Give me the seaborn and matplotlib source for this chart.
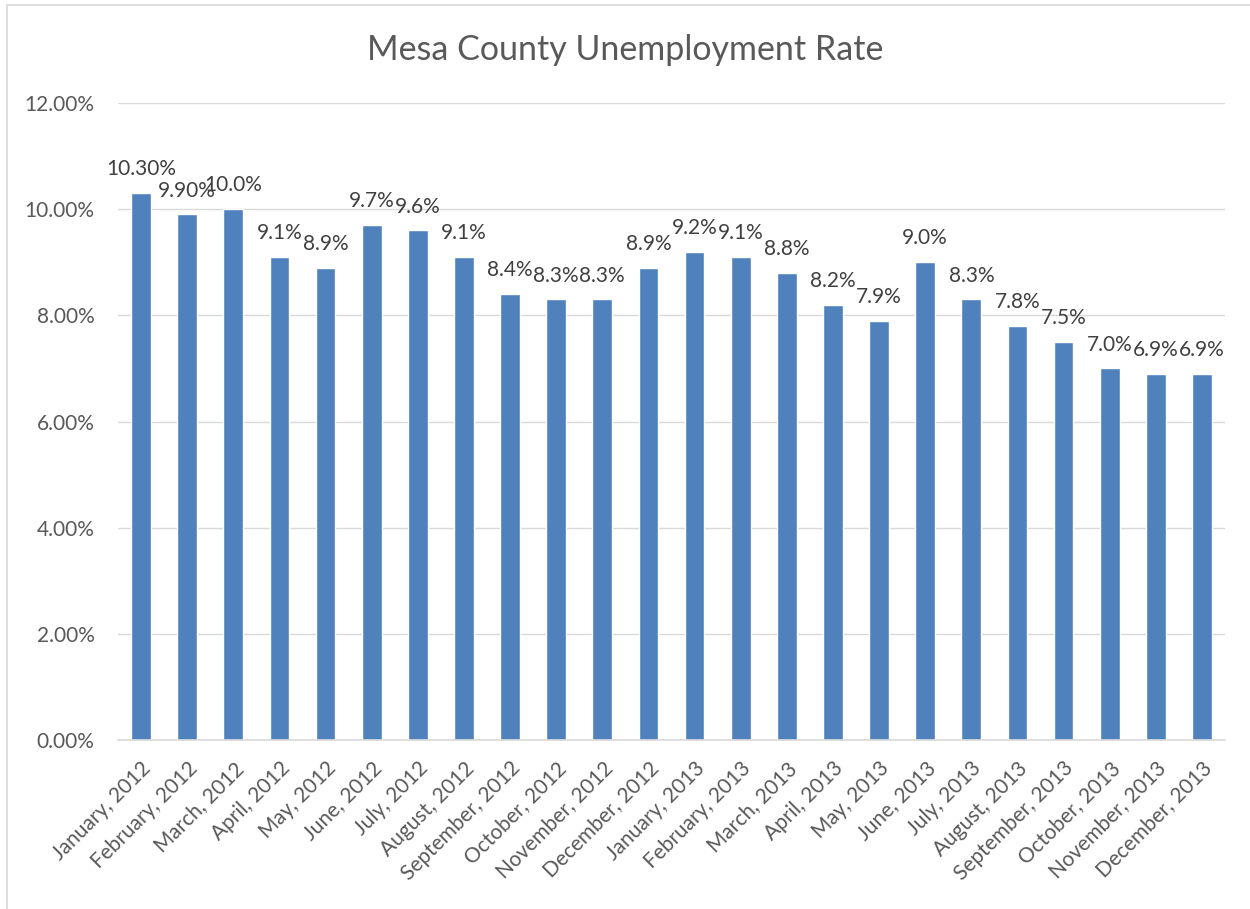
import matplotlib
matplotlib.use("Agg")
import matplotlib.pyplot as plt
import seaborn as sns
import pandas as pd
from matplotlib.patches import Rectangle
from matplotlib.ticker import FuncFormatter

months = ["January, 2012", "February, 2012", "March, 2012", "April, 2012", "May, 2012",
          "June, 2012", "July, 2012", "August, 2012", "September, 2012", "October, 2012",
          "November, 2012", "December, 2012", "January, 2013", "February, 2013",
          "March, 2013", "April, 2013", "May, 2013", "June, 2013", "July, 2013",
          "August, 2013", "September, 2013", "October, 2013", "November, 2013",
          "December, 2013"]
rates = [10.3, 9.9, 10.0, 9.1, 8.9, 9.7, 9.6, 9.1, 8.4, 8.3, 8.3, 8.9,
         9.2, 9.1, 8.8, 8.2, 7.9, 9.0, 8.3, 7.8, 7.5, 7.0, 6.9, 6.9]
value_labels = ["10.30%", "9.90%", "10.0%", "9.1%", "8.9%", "9.7%", "9.6%", "9.1%",
                "8.4%", "8.3%", "8.3%", "8.9%", "9.2%", "9.1%", "8.8%", "8.2%",
                "7.9%", "9.0%", "8.3%", "7.8%", "7.5%", "7.0%", "6.9%", "6.9%"]
yticks = [0, 2, 4, 6, 8, 10, 12]

sns.set_theme(style="white")
plt.rcParams['font.family'] = ['Lato', 'DejaVu Sans']

text_color = "#595959"
bar_color = "#4F81BD"

df = pd.DataFrame({"month": months, "rate": rates})

fig = plt.figure(figsize=(12.5, 9.09), dpi=100)
ax = fig.add_axes([0.0944, 0.1859, 0.8856, 0.7008])

sns.barplot(data=df, x="month", y="rate", color=bar_color, saturation=1,
            width=0.43, ax=ax, order=months)

ax.set_xlim(-0.5, len(months) - 0.5)
ax.set_ylim(0, 12)
ax.set_yticks(yticks)
ax.yaxis.set_major_formatter(FuncFormatter(lambda v, p: f"{v:.2f}%"))
ax.yaxis.grid(True, color="#D9D9D9", linewidth=1)
ax.set_axisbelow(True)
for s in ["top", "right", "left"]:
    ax.spines[s].set_visible(False)
ax.spines["bottom"].set_color("#D9D9D9")
ax.spines["bottom"].set_linewidth(1.2)
ax.set_xlabel("")
ax.set_ylabel("")
ax.tick_params(axis="both", length=0, labelsize=15, colors=text_color)
ax.yaxis.set_tick_params(pad=17)
ax.xaxis.set_tick_params(pad=13)
plt.setp(ax.get_xticklabels(), rotation=45, ha="right", rotation_mode="anchor")

for i, (v, lab) in enumerate(zip(rates, value_labels)):
    ax.annotate(lab, (i, v), xytext=(0, 10), textcoords="offset points",
                ha="center", va="bottom", fontsize=15, color="#404040")

fig.text(0.5, 0.945, "Mesa County Unemployment Rate", ha="center", va="center",
         fontsize=24.5, color=text_color)

fig.patches.append(Rectangle((0.0056, -0.01), 1.0, 1.0045, transform=fig.transFigure,
                             fill=False, edgecolor="#D9D9D9", linewidth=1.2))

fig.savefig("out.png", dpi=100)
